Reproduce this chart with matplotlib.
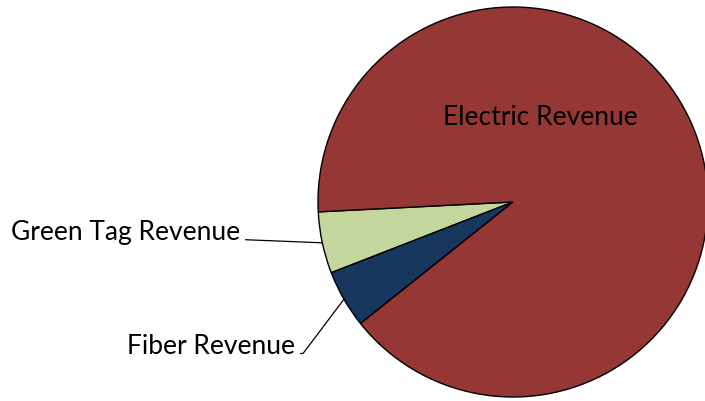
import numpy as np
import matplotlib.pyplot as plt

# Revenue shares (percent)
categories = ["Green Tag Revenue", "Fiber Revenue", "Electric Revenue"]
shares = [5.1, 4.8, 90.1]
colors = ["#C3D69B", "#17375E", "#953735"]

plt.rcParams["font.family"] = ["Lato", "DejaVu Sans"]

fig = plt.figure(figsize=(7.05, 4.02), dpi=100)
# square axes placed so the pie sits at the right like in the original
ax = fig.add_axes([318 / 705, 4 / 402, 390 / 705, 390 / 402])

wedges, _ = ax.pie(
    shares,
    colors=colors,
    startangle=182.9,
    counterclock=True,
    radius=1.0,
    wedgeprops=dict(edgecolor="black", linewidth=1.0),
)
ax.set_xlim(-1, 1)
ax.set_ylim(-1, 1)
ax.set_aspect("equal")
ax.axis("off")

# label inside the big slice
ax.text(0.14, 0.44, categories[2], fontsize=19, ha="center", va="center", color="black")

# outside labels with leader lines to the middle of each small slice
label_pos = {
    "Green Tag Revenue": (240 / 705, 1 - 233 / 402),
    "Fiber Revenue": (295 / 705, 1 - 347 / 402),
}
conn = {
    "Green Tag Revenue": "arc3,rad=0",
    "Fiber Revenue": "angle,angleA=0,angleB=53,rad=0",
}
for w, name in zip(wedges[:2], categories[:2]):
    mid = np.deg2rad((w.theta1 + w.theta2) / 2)
    edge = (w.r * np.cos(mid), w.r * np.sin(mid))
    ax.annotate(
        name,
        xy=edge,
        xycoords="data",
        xytext=label_pos[name],
        textcoords="figure fraction",
        fontsize=19,
        ha="right",
        va="center",
        annotation_clip=False,
        arrowprops=dict(arrowstyle="-", color="black", lw=0.9,
                        shrinkA=2, shrinkB=0, relpos=(1, 0.2),
                        connectionstyle=conn[name]),
    )

fig.savefig("out.png", dpi=100)
